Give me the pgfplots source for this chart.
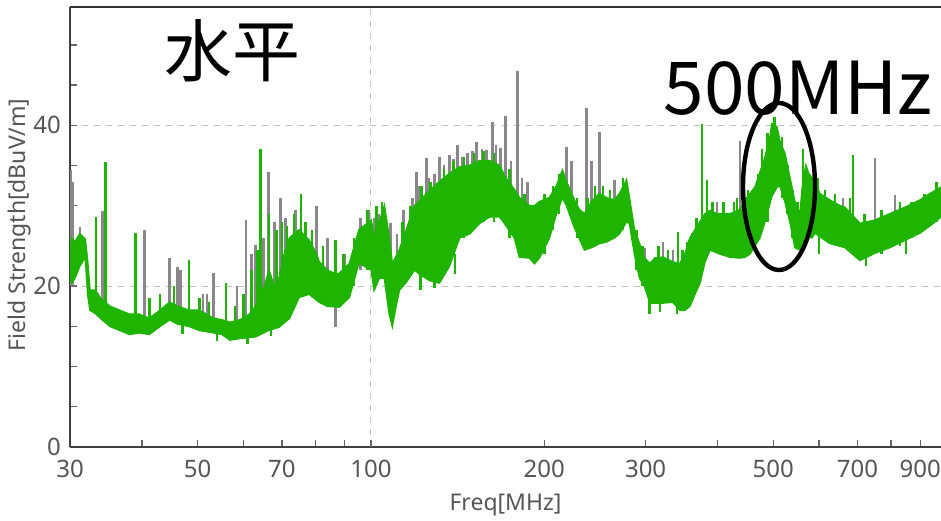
\documentclass[border=0pt]{standalone}
\usepackage{fontspec}
\setmainfont{Noto Sans}
\newfontfamily\cjk{Noto Sans CJK JP}
\usepackage{pgfplots}
\pgfplotsset{compat=1.18}
\definecolor{trgreen}{HTML}{1EB400}
\definecolor{trgray}{HTML}{8A868C}
\definecolor{axgray}{HTML}{555555}

\begin{document}
\begin{tikzpicture}
\begin{axis}[
  at={(0pt,0pt)}, anchor=south west,
  scale only axis, width=435.5pt, height=220pt,
  xmode=log, xmin=30, xmax=978, ymin=0, ymax=54.7,
  axis x line*=bottom, axis y line*=left,
  axis line style={draw=black!75, line width=0.9pt, -},
  xtick={30,50,70,100,200,300,500,700,900},
  xticklabels={30,50,70,100,200,300,500,700,900},
  minor xtick={40,60,80,90,400,600,800},
  extra x ticks={100}, extra x tick labels={}, extra x tick style={grid=major},
  ytick={0,20,40}, yticklabels={0,20,40},
  minor ytick={5,10,15,25,30,35,45,50},
  ymajorgrids,
  grid style={draw=black!25, dashed, line width=0.5pt},
  tick align=inside,
  major tick length=3.5pt, minor tick length=3.5pt,
  tick style={draw=black!60, line width=0.7pt},
  ticklabel style={font=\fontsize{12}{14}\selectfont, text=axgray},
  xticklabel style={yshift=-3pt},
  yticklabel style={xshift=-1pt},
  /pgf/number format/assume math mode=true,
  unbounded coords=jump,
]
% gray trace: peaks that stand above the green trace
\addplot[trgray, line width=1.3pt] coordinates {
  (30.1,20) (30.1,34.4) (30.1,nan) (30.3,20) (30.3,33) (30.3,nan)
  (31.2,24) (31.2,27.3) (31.2,nan) (34.2,17) (34.2,29.4) (34.2,nan)
  (40.4,15) (40.4,27) (40.4,nan) (44.7,16) (44.7,23.5) (44.7,nan)
  (46.1,16) (46.1,22.4) (46.1,nan) (46.7,16) (46.7,22) (46.7,nan)
  (51.1,15) (51.1,19) (51.1,nan) (51.9,15) (51.9,19) (51.9,nan)
  (53.3,15) (53.3,21.6) (53.3,nan) (58.5,14) (58.5,20) (58.5,nan)
  (60.7,14.5) (60.7,28.2) (60.7,nan) (62.0,15) (62.0,24) (62.0,nan)
  (63.0,15) (63.0,25.1) (63.0,nan) (65.0,16) (65.0,26) (65.0,nan)
  (66.4,15) (66.4,34.2) (66.4,nan) (68.0,16) (68.0,28) (68.0,nan)
  (69.6,16) (69.6,31) (69.6,nan) (71.0,18) (71.0,28.5) (71.0,nan)
  (74.0,20) (74.0,29.5) (74.0,nan) (77.0,20) (77.0,27.5) (77.0,nan)
  (80.4,20) (80.4,30) (80.4,nan) (84.0,19) (84.0,26) (84.0,nan)
  (86.7,19) (86.7,14.9) (86.7,nan) (90.0,18) (90.0,24) (90.0,nan)
  (96.0,22) (96.0,28.5) (96.0,nan) (99.0,22) (99.0,29.5) (99.0,nan)
  (101.5,24) (101.5,28.5) (101.5,nan) (103.0,24) (103.0,29) (103.0,nan)
  (108.0,22) (108.0,27.8) (108.0,nan) (111.0,22) (111.0,26.5) (111.0,nan)
  (114.0,23) (114.0,29.5) (114.0,nan) (118.0,24) (118.0,31) (118.0,nan)
  (120.0,25) (120.0,34.2) (120.0,nan) (121.0,25) (121.0,32.5) (121.0,nan)
  (124.9,25) (124.9,35.9) (124.9,nan) (126.0,26) (126.0,33.5) (126.0,nan)
  (129.0,26) (129.0,34) (129.0,nan) (131.5,25) (131.5,36) (131.5,nan)
  (134.0,27) (134.0,35) (134.0,nan) (136.9,26) (136.9,36.3) (136.9,nan)
  (139.0,28) (139.0,35.8) (139.0,nan) (141.4,28) (141.4,37.5) (141.4,nan)
  (144.0,28) (144.0,36) (144.0,nan) (147.0,28) (147.0,36.5) (147.0,nan)
  (150.0,29) (150.0,36.8) (150.0,nan) (152.6,29) (152.6,37.9) (152.6,nan)
  (156.0,29) (156.0,37) (156.0,nan) (158.8,30) (158.8,36.9) (158.8,nan)
  (162.6,30) (162.6,40.4) (162.6,nan) (165.0,30) (165.0,37.5) (165.0,nan)
  (168.0,30) (168.0,37.2) (168.0,nan) (171.3,30) (171.3,41.2) (171.3,nan)
  (175.0,29) (175.0,35.5) (175.0,nan) (179.7,28) (179.7,46.8) (179.7,nan)
  (183.0,27) (183.0,33.5) (183.0,nan) (187.0,27) (187.0,33) (187.0,nan)
  (218.6,31) (218.6,37.3) (218.6,nan) (223.0,30) (223.0,35.6) (223.0,nan)
  (236.8,27) (236.8,42.1) (236.8,nan) (241.6,27) (241.6,35.6) (241.6,nan)
  (249.4,27) (249.4,39.1) (249.4,nan) (264.8,27) (264.8,33.2) (264.8,nan)
  (298.6,21) (298.6,24.8) (298.6,nan) (321.4,19) (321.4,25.5) (321.4,nan)
  (334.6,19) (334.6,24.5) (334.6,nan) (361.1,19) (361.1,26.6) (361.1,nan)
  (399.1,26) (399.1,30.4) (399.1,nan) (437.6,26) (437.6,38.1) (437.6,nan)
  (660.4,27) (660.4,31) (660.4,nan) (750.8,26) (750.8,35.9) (750.8,nan)
  (813.3,27) (813.3,31.3) (813.3,nan) (906.1,28) (906.1,31)
};
% green trace: band (upper edge, then lower edge back)
\addplot[fill=trgreen, draw=trgreen, line width=0.8pt] coordinates {
  (30,24) (30.2,26) (30.6,25.5) (31.2,26.5) (31.9,25.8) (32.2,23) (32.5,19.5)
  (33.2,19.5) (33.9,18.5) (35.2,17.5) (36.6,17) (38.1,16.5) (39.6,16.5) (41.2,16)
  (43.0,17) (44.7,18) (46.1,17.5) (48.3,17) (50.3,17) (53.3,16) (55.1,15.8)
  (56.9,15.5) (59.2,15.8) (61.5,16.5) (63.0,17.5) (65.3,20) (66.5,22) (67.9,20)
  (69.2,21) (70.7,24) (72.2,26) (75.0,27) (78.1,25.7) (80.4,24) (81.3,23) (84.0,22)
  (86.7,21.5) (88.1,21.6) (91.7,22.8) (95.3,27) (97.3,27.5) (100.1,28.2) (101.3,26)
  (103.4,28) (105.5,30) (107.6,26) (108.9,22.8) (110.2,23.5) (112.0,24.5) (115.2,27)
  (119.0,30) (124.9,31.5) (131.5,33) (136.9,34) (142.5,34.8) (148.4,35) (154.4,35.6)
  (160.7,35.6) (167.3,35) (171.3,33.5) (177.5,32) (181.1,31) (188.5,30) (192.3,30)
  (196.2,30.5) (204.2,31) (210.0,32.5) (215.1,34.4) (218.6,33) (225.6,30.7)
  (230.3,29.5) (234.9,29) (241.6,30.5) (249.4,31.5) (256.5,31) (264.8,30.7)
  (270.2,31.5) (277.9,33.2) (281.2,31) (286.9,27) (292.8,25.3) (298.6,23.5)
  (305.3,22.8) (311.3,23.5) (321.4,23.6) (334.6,23) (344.1,22.8) (351.0,24)
  (358.2,26) (365.5,27) (372.9,28) (380.4,29) (388.1,29.4) (399.1,29) (420.4,29)
  (437.6,29.5) (446.4,30.7) (464.6,32.3) (483.5,36) (493.3,38.5) (497.2,40.2)
  (507.3,39.8) (513.3,38) (523.7,36.5) (534.3,33.5) (545.1,30.5) (556.2,29)
  (562.8,33) (569.6,35) (576,34) (583.5,33.5) (590.5,32.8) (602.4,31.5) (627.0,30.7)
  (652.5,30) (665.8,29.8) (707.0,27.8) (750.8,28.2) (797.2,29) (846.6,29.8)
  (898.9,30.7) (935.6,31.5) (978,32.3)
  (978,28.6) (935.6,27.5) (898.9,26.6) (846.6,25.7) (797.2,24.8) (750.8,24.1)
  (707.0,23.2) (665.8,24.8) (627.0,25.3) (590.5,26.6) (583.5,26) (569.6,26.5)
  (562.8,25.5) (556.2,24.5) (545.1,24.8) (534.3,28) (523.7,30.5) (513.3,32.5)
  (507.3,32.3) (497.2,31.2) (483.5,28) (473.9,26) (464.6,25) (455.4,24) (446.4,23.6)
  (437.6,23.5) (420.4,23.6) (404.0,24) (388.1,24.5) (380.4,23) (372.9,20.4)
  (365.5,19) (358.2,17.5) (351.0,17) (344.1,17) (334.6,18) (321.4,17.9) (311.3,17.9)
  (305.3,17.9) (298.6,20) (292.8,21) (286.9,24) (281.2,27.8) (277.9,28) (270.2,26.5)
  (264.8,26) (256.5,25.5) (249.4,25.3) (241.6,24.8) (234.9,24.5) (225.6,27.3)
  (218.6,30) (215.1,31) (210.0,29) (204.2,26) (196.2,23.5) (192.3,22.8) (188.5,23.5)
  (181.1,23.6) (177.5,26) (170.6,27.8) (167.3,28.6) (160.7,28.6) (154.4,27.8)
  (148.4,26.5) (142.5,26) (136.9,22.5) (131.5,20.4) (126.4,20.7) (121.4,21.5)
  (119.0,22) (115.2,20.5) (112.0,19.5) (110.2,17) (108.9,15) (107.6,16.5) (105.5,21)
  (103.4,21) (101.3,19.5) (100.1,22) (97.3,22.5) (95.3,22.9) (91.7,18.6) (88.1,17.4)
  (84.0,17.5) (81.3,18) (78.1,19) (75.0,18.6) (72.2,16) (69.2,14.9) (66.4,14.5)
  (63.0,13.7) (59.2,13.5) (56.9,13.3) (55.1,14) (53.3,14.2) (50.3,14.5) (48.3,15)
  (46.1,15.3) (44.7,15.8) (43.0,15) (41.2,14) (39.6,14.2) (38.1,14) (36.6,14.5)
  (35.2,15) (33.9,16) (33.2,16.6) (32.5,17) (32.2,19) (31.9,23.6) (31.2,22.5)
  (30.6,21) (30.2,20.4) (30,21)
} -- cycle;
% green trace: peaks and dips that stand out of the band
\addplot[trgreen, line width=1.3pt] coordinates {
  (33.3,18) (33.3,28.6) (33.3,nan) (34.6,17) (34.6,35.4) (34.6,nan)
  (39.0,15) (39.0,26.6) (39.0,nan) (41.2,15) (41.2,18.5) (41.2,nan)
  (43.0,15) (43.0,19) (43.0,nan) (45.5,15.5) (45.5,20) (45.5,nan)
  (47.0,16) (47.0,14) (47.0,nan) (48.3,15.5) (48.3,23.2) (48.3,nan)
  (50.3,15) (50.3,18.5) (50.3,nan) (52.3,15) (52.3,18) (52.3,nan)
  (54.0,15) (54.0,13.2) (54.0,nan) (56.0,14.5) (56.0,20.4) (56.0,nan)
  (58.0,14) (58.0,17.5) (58.0,nan) (60.0,14) (60.0,19) (60.0,nan)
  (61.0,15) (61.0,12.8) (61.0,nan) (62.0,14.5) (62.0,22) (62.0,nan)
  (63.5,15) (63.5,24.5) (63.5,nan) (64.3,15) (64.3,37.1) (64.3,nan)
  (66.5,16) (66.5,29) (66.5,nan) (67.0,16) (67.0,13.8) (67.0,nan)
  (68.5,16) (68.5,27) (68.5,nan) (70.0,17) (70.0,28) (70.0,nan)
  (71.5,18) (71.5,27.5) (71.5,nan) (73.5,20) (73.5,29) (73.5,nan)
  (75.6,20) (75.6,31.5) (75.6,nan) (77.0,20) (77.0,28) (77.0,nan)
  (79.0,20) (79.0,27) (79.0,nan) (82.5,19) (82.5,25) (82.5,nan)
  (86.7,18) (86.7,25.7) (86.7,nan) (89.5,18) (89.5,24) (89.5,nan)
  (93.5,20) (93.5,26) (93.5,nan) (98.5,22) (98.5,29.5) (98.5,nan)
  (102.3,21) (102.3,30) (102.3,nan) (104.5,22) (104.5,30.5) (104.5,nan)
  (113.5,21) (113.5,28) (113.5,nan) (117.0,22) (117.0,30) (117.0,nan)
  (122.0,23) (122.0,19.5) (122.0,nan) (122.5,22) (122.5,32.5) (122.5,nan)
  (127.0,22) (127.0,33) (127.0,nan) (129.0,23) (129.0,19.8) (129.0,nan)
  (134.0,23) (134.0,34.5) (134.0,nan) (139.0,25) (139.0,35.5) (139.0,nan)
  (140.0,24) (140.0,21.5) (140.0,nan) (145.0,26) (145.0,36) (145.0,nan)
  (151.0,27) (151.0,36.5) (151.0,nan) (157.0,28) (157.0,36.8) (157.0,nan)
  (163.5,28) (163.5,36.5) (163.5,nan) (174.0,26) (174.0,34.5) (174.0,nan)
  (185.0,24) (185.0,31.5) (185.0,nan) (200.0,24) (200.0,31.5) (200.0,nan)
  (207.0,27) (207.0,32.5) (207.0,nan) (212.0,29) (212.0,34) (212.0,nan)
  (228.0,26) (228.0,31) (228.0,nan) (238.0,25) (238.0,31) (238.0,nan)
  (245.0,25) (245.0,32.5) (245.0,nan) (253.0,26) (253.0,32.5) (253.0,nan)
  (260.0,26) (260.0,32) (260.0,nan) (274.0,27) (274.0,33.5) (274.0,nan)
  (289.0,22) (289.0,27) (289.0,nan) (296.0,20) (296.0,25) (296.0,nan)
  (305.0,19) (305.0,16.5) (305.0,nan) (316.0,18) (316.0,25) (316.0,nan)
  (318.0,19) (318.0,16.8) (318.0,nan) (328.0,18) (328.0,24.5) (328.0,nan)
  (340.0,19) (340.0,16.5) (340.0,nan) (341.3,19) (341.3,26.7) (341.3,nan)
  (348.0,18) (348.0,24.5) (348.0,nan) (355.0,18) (355.0,25.5) (355.0,nan)
  (368.0,20) (368.0,28.5) (368.0,nan) (375.9,23) (375.9,40.2) (375.9,nan)
  (383.5,24) (383.5,33.2) (383.5,nan) (392.0,25) (392.0,30.5) (392.0,nan)
  (410.0,24) (410.0,30.5) (410.0,nan) (427.0,24) (427.0,30.5) (427.0,nan)
  (432.3,25) (432.3,31) (432.3,nan) (452.0,24) (452.0,32) (452.0,nan)
  (470.0,26) (470.0,34) (470.0,nan) (478.0,27) (478.0,37) (478.0,nan)
  (488.0,28) (488.0,39) (488.0,nan) (502.0,32) (502.0,41) (502.0,nan)
  (518.0,31) (518.0,38.5) (518.0,nan) (529.0,29) (529.0,35) (529.0,nan)
  (540.0,26) (540.0,32) (540.0,nan) (551.0,25) (551.0,30.5) (551.0,nan)
  (562.8,27) (562.8,37.1) (562.8,nan) (596.0,27) (596.0,33.5) (596.0,nan)
  (600.0,27) (600.0,24) (600.0,nan) (615.0,26) (615.0,32) (615.0,nan)
  (640.0,26) (640.0,31.5) (640.0,nan) (680.0,25) (680.0,31) (680.0,nan)
  (687.4,25) (687.4,36.3) (687.4,nan) (720.0,24) (720.0,29) (720.0,nan)
  (725.0,25) (725.0,22.5) (725.0,nan) (770.0,24) (770.0,29.5) (770.0,nan)
  (830.0,25) (830.0,30.5) (830.0,nan) (850.0,26) (850.0,24) (850.0,nan)
  (870.0,26) (870.0,30.5) (870.0,nan) (915.0,27) (915.0,31.5) (915.0,nan)
  (960.0,28) (960.0,33)
};
\end{axis}
% frame top line, axis titles, annotations (axis box runs 0..435.5pt x 0..220pt)
\draw[black!80, line width=0.9pt] (0pt,220pt) -- (435.5pt,220pt);
\node[font=\fontsize{11.5}{13}\selectfont, text=axgray] at (217.75pt,-29pt) {Freq[MHz]};
\node[font=\fontsize{11.5}{13}\selectfont, text=axgray, rotate=90] at (-25pt,111pt) {Field Strength[dBuV/m]};
\node[font=\cjk\fontsize{34}{40}\selectfont, inner sep=0pt] at (81pt,198pt) {水平};
\node[font=\cjk\fontsize{36.5}{42}\selectfont, inner sep=0pt, anchor=base] at (364pt,166pt) {500MHz};
\draw[line width=2.2pt] (354.5pt,130.25pt) ellipse [x radius=18pt, y radius=41.75pt];
\pgfresetboundingbox
\path (-35pt,-36.5pt) rectangle (435.5pt,223.5pt);
\end{tikzpicture}
\end{document}
